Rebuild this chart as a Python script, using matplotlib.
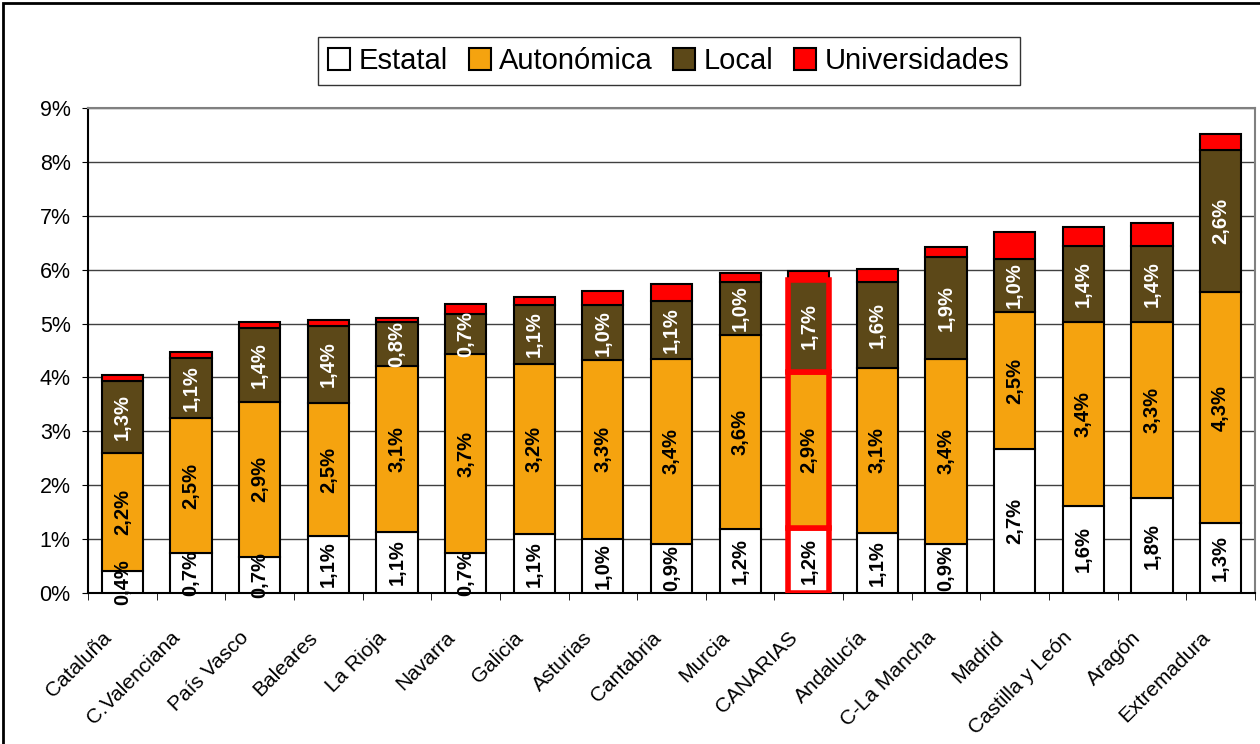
import numpy as np
import matplotlib
matplotlib.use('Agg')
from matplotlib import pyplot as plt
from matplotlib.patches import Rectangle

plt.rcParams['font.family'] = ['Liberation Sans', 'DejaVu Sans']

regiones = ['Cataluña', 'C.Valenciana', 'País Vasco', 'Baleares', 'La Rioja', 'Navarra',
            'Galicia', 'Asturias', 'Cantabria', 'Murcia', 'CANARIAS', 'Andalucía',
            'C-La Mancha', 'Madrid', 'Castilla y León', 'Aragón', 'Extremadura']
estatal = [0.41, 0.74, 0.67, 1.06, 1.13, 0.74, 1.09, 1.01, 0.91, 1.19, 1.20, 1.12,
           0.91, 2.67, 1.62, 1.76, 1.29]
autonomica = [2.19, 2.50, 2.88, 2.46, 3.09, 3.69, 3.16, 3.31, 3.44, 3.60, 2.90, 3.06,
              3.43, 2.54, 3.41, 3.27, 4.30]
local = [1.33, 1.13, 1.37, 1.44, 0.81, 0.74, 1.09, 1.02, 1.06, 0.99, 1.70, 1.59,
         1.89, 0.99, 1.41, 1.41, 2.63]
universidades = [0.11, 0.10, 0.11, 0.11, 0.08, 0.19, 0.16, 0.26, 0.33, 0.15, 0.18, 0.25,
                 0.19, 0.49, 0.36, 0.43, 0.29]
series = ['Estatal', 'Autonómica', 'Local', 'Universidades']
colores = ['#FFFFFF', '#F5A30F', '#5C4818', '#FF0000']
col_texto = ['black', 'black', 'white', None]
destacada = 'CANARIAS'

fig = plt.figure(figsize=(12.6, 7.44), dpi=100)
ax = fig.add_axes([88/1260, 1-593/744, (1255-88)/1260, (593-108)/744])

x = np.arange(len(regiones))
base = np.zeros(len(regiones))
datos = [estatal, autonomica, local, universidades]
for k, vals in enumerate(datos):
    vals = np.array(vals)
    bars = ax.bar(x, vals, 0.6, bottom=base, color=colores[k], edgecolor='black',
                  linewidth=1.5, label=series[k], zorder=3)
    for i, b in enumerate(bars):
        if regiones[i] == destacada and k < 3:
            b.set_edgecolor('#FF0000')
            b.set_linewidth(4)
            b.set_zorder(4)
        if col_texto[k] is not None:
            txt = f'{vals[i]:.1f}%'.replace('.', ',')
            ax.text(x[i], base[i] + vals[i]/2, txt, rotation=90, ha='center', va='center',
                    fontsize=14.5, fontweight='bold', color=col_texto[k], zorder=5)
    base = base + vals

ax.set_xlim(-0.5, len(regiones) - 0.5)
ax.set_ylim(0, 9)
ax.set_yticks(range(10))
ax.set_yticklabels([f'{v}%' for v in range(10)], fontsize=15.5)
ax.yaxis.grid(True, color='#404040', linewidth=1, zorder=0)
ax.tick_params(axis='y', length=4.5, direction='out', color='black', pad=8)

ax.set_xticks(x)
ax.set_xticklabels([])
ax.tick_params(axis='x', which='major', length=0)
ax.set_xticks(np.arange(len(regiones) + 1) - 0.5, minor=True)
ax.tick_params(axis='x', which='minor', length=5, direction='out', color='black')
for i, r in enumerate(regiones):
    ax.annotate(r, xy=(x[i] - 0.2, 0), xycoords=('data', 'axes fraction'),
                xytext=(0, -30), textcoords='offset points', rotation=45,
                rotation_mode='anchor', ha='right', va='center', fontsize=15)

ax.spines['left'].set_color('black')
ax.spines['bottom'].set_color('black')
ax.spines['top'].set_color('#808080')
ax.spines['right'].set_color('#808080')
for s in ax.spines.values():
    s.set_linewidth(1.5)

leg = fig.legend(loc='center', bbox_to_anchor=(669/1260, 1-61/744), ncol=4, fontsize=21,
                 frameon=True, fancybox=False, edgecolor='black', handlelength=0.75,
                 handleheight=0.75, handletextpad=0.3, columnspacing=0.7, borderpad=0.35)
leg.get_frame().set_linewidth(1)

fig.patches.append(Rectangle((3/1260, -0.01), 1.05, 1 - 3/744 + 0.01, transform=fig.transFigure,
                             fill=False, edgecolor='black', linewidth=2))

fig.savefig('out.png', dpi=100)
